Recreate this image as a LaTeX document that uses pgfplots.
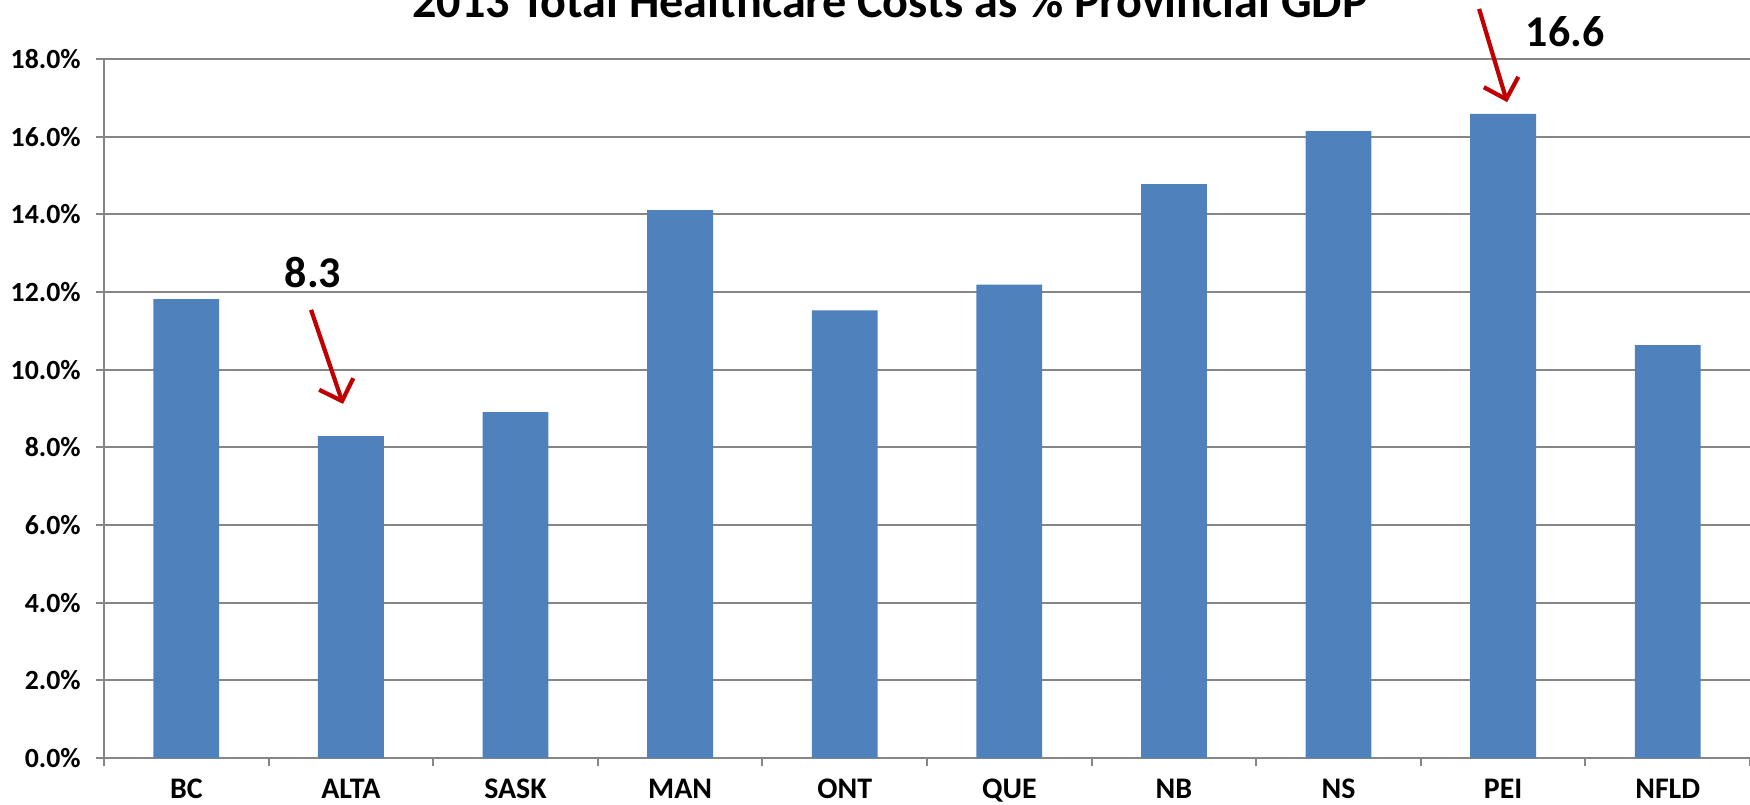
\documentclass[border=0pt]{standalone}
\usepackage{fontspec}
\setmainfont{Carlito}
\usepackage{pgfplots}
\pgfplotsset{compat=1.18}
\usetikzlibrary{arrows.meta}
\definecolor{barblue}{HTML}{4F81BD}
\definecolor{gridgray}{HTML}{868686}
\definecolor{arrowred}{HTML}{C00000}
\begin{document}
\begin{tikzpicture}
\useasboundingbox (0,0) rectangle (175mm,80.4mm);
\clip (0,0) rectangle (175mm,80.4mm);
\begin{axis}[
  at={(10.4mm,4.6mm)}, anchor=south west,
  scale only axis, width=164.6mm, height=69.9mm,
  xmin=-0.5, xmax=9.5, ymin=0, ymax=18,
  ytick={0,2,...,18},
  xtick={-0.5,0.5,...,9.5},
  xticklabels={BC,ALTA,SASK,MAN,ONT,QUE,NB,NS,PEI,NFLD},
  x tick label as interval,
  axis x line*=bottom, axis y line*=left,
  axis line style={gridgray, line width=0.6pt, -},
  ymajorgrids, grid style={gridgray, line width=0.6pt},
  tick align=outside, major tick length=0.8mm,
  tick style={gridgray, line width=0.6pt},
  /pgf/number format/assume math mode=true,
  xticklabel style={font=\bfseries\fontsize{8.5}{10}\selectfont, text=black, anchor=base, yshift=-3.25mm},
  yticklabel style={font=\bfseries\fontsize{7.9}{9.5}\selectfont, text=black, xshift=-0.3mm},
  yticklabel={\pgfmathprintnumber[fixed,fixed zerofill,precision=1]{\tick}\%},
  clip=false,
]
\addplot[ybar, bar width=0.4, fill=barblue, draw=none] coordinates {
  (0,11.82) (1,8.29) (2,8.91) (3,14.11) (4,11.53) (5,12.19) (6,14.78) (7,16.14) (8,16.59) (9,10.63)
};
\draw[arrowred, line width=1.2pt, -{Straight Barb[length=1.8mm,width=3.6mm]}] (axis cs:0.758,11.54) -- (axis cs:0.952,9.12);
\node[anchor=base, font=\bfseries\fontsize{12.5}{14}\selectfont] at (axis cs:0.77,12.11) {8.3};
\draw[arrowred, line width=1.2pt, -{Straight Barb[length=1.8mm,width=3.6mm]}] (axis cs:7.854,19.29) -- (axis cs:8.024,16.89);
\node[anchor=base, font=\bfseries\fontsize{12.5}{14}\selectfont] at (axis cs:8.376,18.33) {16.6};
\end{axis}
\node[anchor=base, font=\bfseries\fontsize{13.7}{16}\selectfont] at (89.0mm,78.65mm) {2013 Total Healthcare Costs as \% Provincial GDP};
\end{tikzpicture}
\end{document}
